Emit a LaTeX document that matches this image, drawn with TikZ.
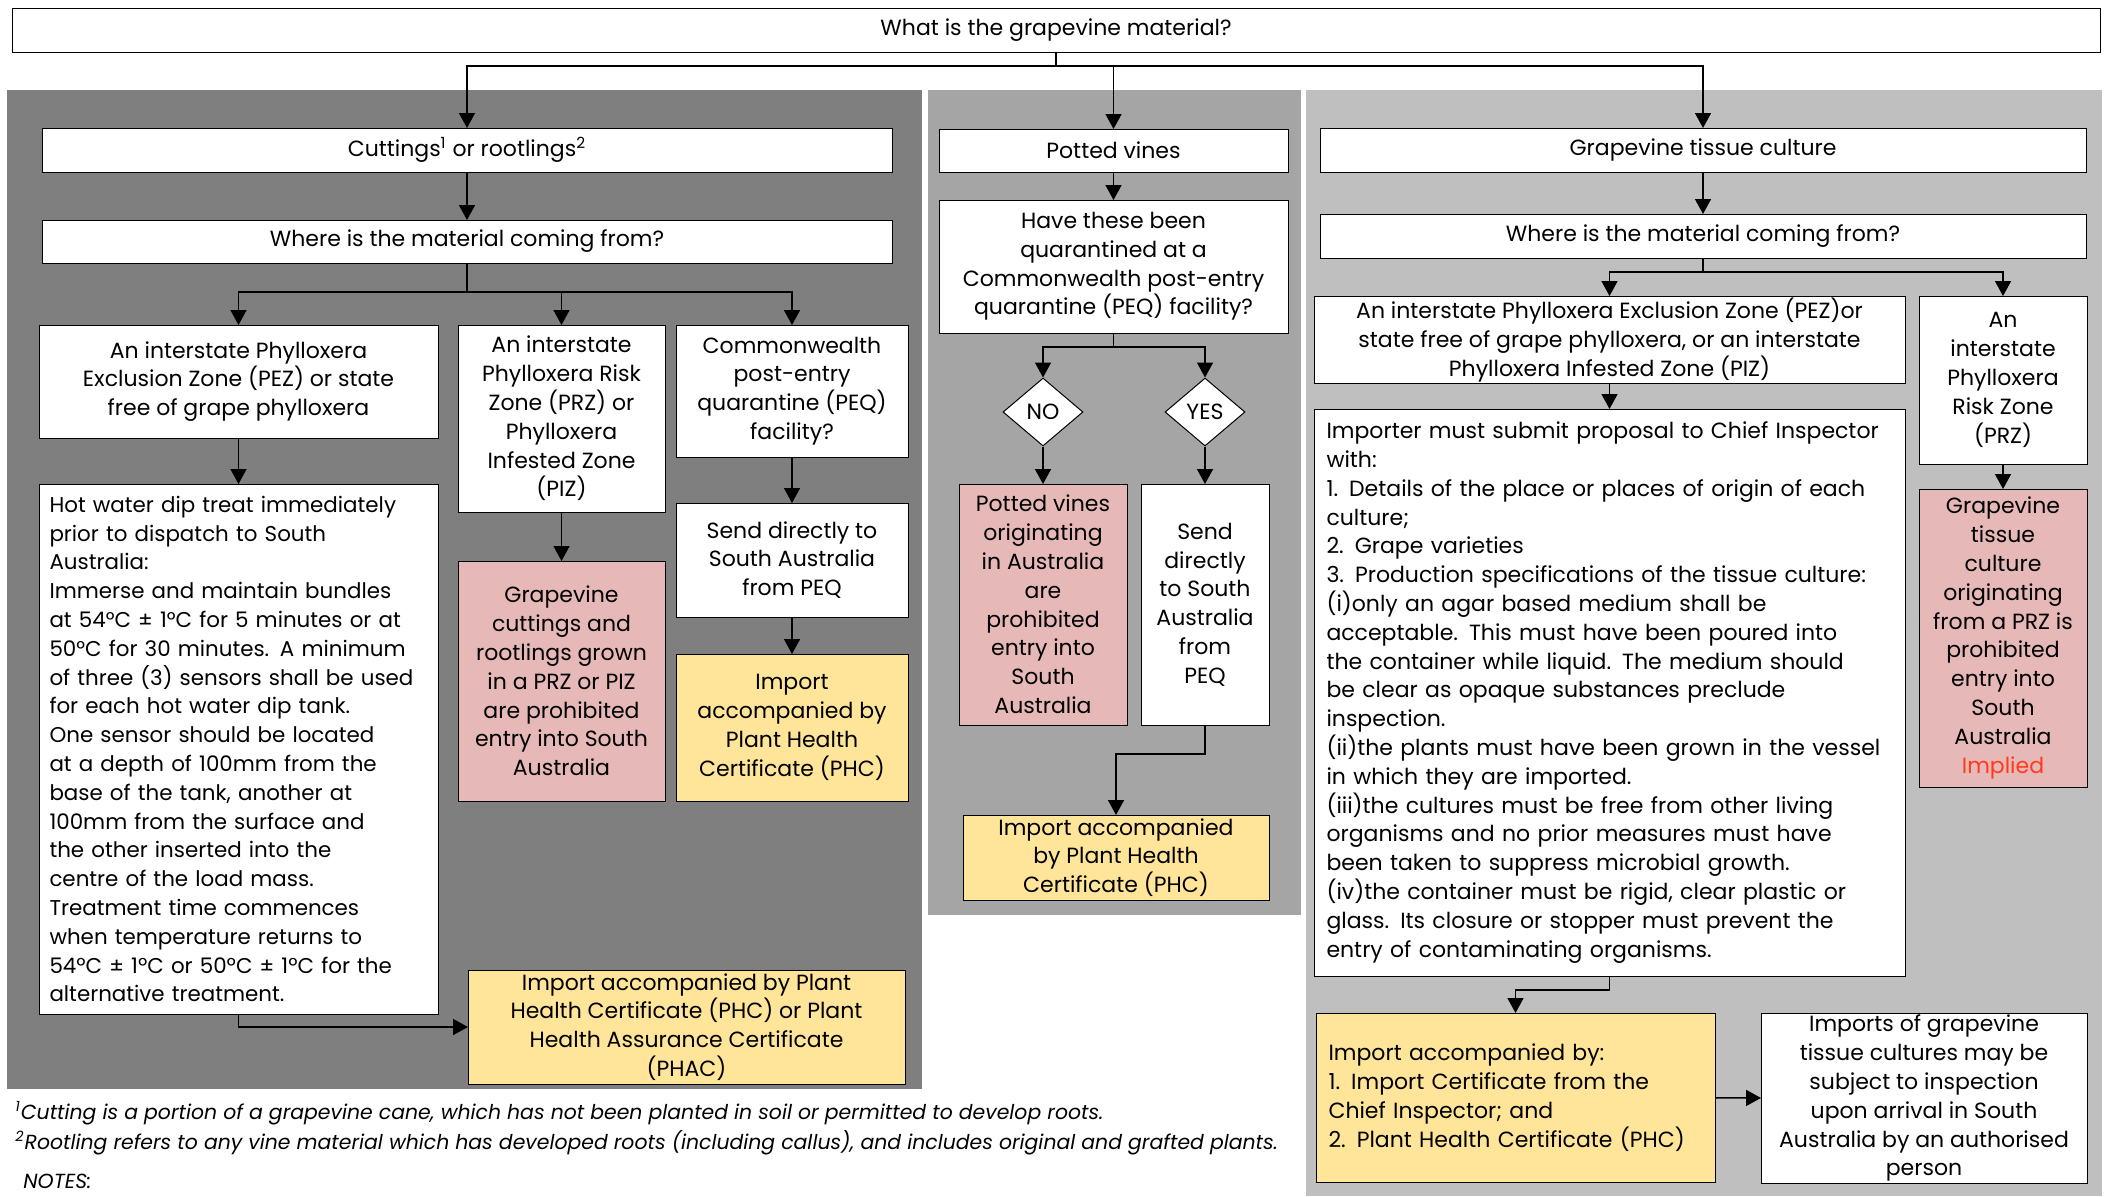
\documentclass[tikz,border=0pt]{standalone}
\usepackage{fontspec}
\setmainfont{Poppins}
\usetikzlibrary{shapes.geometric,arrows.meta}

\definecolor{panelA}{RGB}{127,127,127}
\definecolor{panelB}{RGB}{165,165,165}
\definecolor{panelC}{RGB}{191,191,191}
\definecolor{pinkc}{RGB}{230,184,183}
\definecolor{yelc}{RGB}{255,229,153}
\definecolor{impl}{RGB}{255,59,31}

\newcommand\txt{\fontsize{11}{14.4}\selectfont}
\newcommand\txtsm{\fontsize{10.7}{14.4}\selectfont}
\newcommand\ftn{\fontsize{10.2}{13}\selectfont\itshape}

\begin{document}
\begin{tikzpicture}[x=0.5pt,y=-0.5pt,
  box/.style={draw=black, line width=0.5pt, fill=white, align=center,
    inner sep=1pt, outer sep=0pt, font=\txt},
  pbox/.style={box, fill=pinkc},
  ybox/.style={box, fill=yelc},
  boxat/.style n args={4}{anchor=north west, at={(#1,#2)},
    minimum width={(#3-#1)*0.5pt}, minimum height={(#4-#2)*0.5pt}},
  conn/.style={line width=0.75pt},
  arr/.style={conn, -{Triangle[length=7.5pt,width=8pt]}},
  dia/.style={draw=black, line width=0.5pt, fill=white, diamond, inner sep=0pt,
    minimum width=40pt, minimum height=34pt, font=\txt},
  note/.style={anchor=base west, inner sep=0pt, font=\ftn}
]
\useasboundingbox (0,0) rectangle (2107,1196);
\fill[white] (0,0) rectangle (2107,1196);

% shaded panels for the three kinds of material
\fill[panelA] (7,90) rectangle (922,1089);
\fill[panelB] (928,90) rectangle (1301,915);
\fill[panelC] (1306,90) rectangle (2102,1196);

% question at the top
\node[box, boxat={12}{8}{2100}{52}] (top) {What is the grapevine material?};

% ---- cuttings and rootlings ----
\node[box, boxat={42}{128}{892}{172}] (cut) {Cuttings\textsuperscript{1} or rootlings\textsuperscript{2}};
\node[box, boxat={42}{220}{892}{263}] (lwhere) {Where is the material coming from?};
\node[box, boxat={39}{325}{438}{438}] (pez) {An interstate Phylloxera\\Exclusion Zone (PEZ) or state\\free of grape phylloxera};
\node[box, boxat={458}{325}{665}{512}] (prz) {An interstate\\Phylloxera Risk\\Zone (PRZ) or\\Phylloxera\\Infested Zone\\(PIZ)};
\node[box, boxat={676}{325}{908}{457}] (peq) {Commonwealth\\post-entry\\quarantine (PEQ)\\facility?};
\node[box, boxat={39}{484}{438}{1014}, align=left, text width=189pt, font=\txtsm] (hwd) {Hot water dip treat immediately\\prior to dispatch to South\\Australia:\\Immerse and maintain bundles\\at 54°C ± 1°C for 5 minutes or at\\50°C for 30 minutes. A minimum\\of three (3) sensors shall be used\\for each hot water dip tank.\\One sensor should be located\\at a depth of 100mm from the\\base of the tank, another at\\100mm from the surface and\\the other inserted into the\\centre of the load mass.\\Treatment time commences\\when temperature returns to\\54ºC ± 1ºC or 50ºC ± 1ºC for the\\alternative treatment.};
\node[pbox, boxat={458}{561}{665}{801}] (lpro) {Grapevine\\cuttings and\\rootlings grown\\in a PRZ or PIZ\\are prohibited\\entry into South\\Australia};
\node[box, boxat={676}{503}{908}{617}] (send) {Send directly to\\South Australia\\from PEQ};
\node[ybox, boxat={676}{654}{908}{801}] (lphc) {Import\\accompanied by\\Plant Health\\Certificate (PHC)};
\node[ybox, boxat={468}{970}{905}{1084}] (phac) {Import accompanied by Plant\\Health Certificate (PHC) or Plant\\Health Assurance Certificate\\(PHAC)};

% ---- potted vines ----
\node[box, boxat={939}{129}{1288}{172}] (pot) {Potted vines};
\node[box, boxat={939}{200}{1288}{333}] (quar) {Have these been\\quarantined at a\\Commonwealth post-entry\\quarantine (PEQ) facility?};
\node[dia] (no) at (1043,412) {NO};
\node[dia] (yes) at (1205,412) {YES};
\node[pbox, boxat={959}{484}{1127}{725}] (mpro) {Potted vines\\originating\\in Australia\\are\\prohibited\\entry into\\South\\Australia};
\node[box, boxat={1141}{484}{1269}{725}] (msend) {Send\\directly\\to South\\Australia\\from\\PEQ};
\node[ybox, boxat={963}{815}{1269}{900}] (mphc) {Import accompanied\\by Plant Health\\Certificate (PHC)};

% ---- tissue culture ----
\node[box, boxat={1320}{128}{2086}{172}] (gtc) {Grapevine tissue culture};
\node[box, boxat={1320}{214}{2086}{258}] (rwhere) {Where is the material coming from?};
\node[box, boxat={1314}{296}{1905}{380}] (pezpiz) {An interstate Phylloxera Exclusion Zone (PEZ)or\\state free of grape phylloxera, or an interstate\\Phylloxera Infested Zone (PIZ)};
\node[box, boxat={1919}{296}{2087}{464}] (rprz) {An\\interstate\\Phylloxera\\Risk Zone\\(PRZ)};
\node[box, boxat={1314}{409}{1905}{976}, align=left, text width=283pt] (imp) {Importer must submit proposal to Chief Inspector\\with:\\1. Details of the place or places of origin of each\\culture;\\2. Grape varieties\\3. Production specifications of the tissue culture:\\(i)only an agar based medium shall be\\acceptable. This must have been poured into\\the container while liquid. The medium should\\be clear as opaque substances preclude\\inspection.\\(ii)the plants must have been grown in the vessel\\in which they are imported.\\(iii)the cultures must be free from other living\\organisms and no prior measures must have\\been taken to suppress microbial growth.\\(iv)the container must be rigid, clear plastic or\\glass. Its closure or stopper must prevent the\\entry of contaminating organisms.};
\node[pbox, boxat={1919}{489}{2087}{787}] (rpro) {Grapevine\\tissue\\culture\\originating\\from a PRZ is\\prohibited\\entry into\\South\\Australia\\\textcolor{impl}{Implied}};
\node[ybox, boxat={1316}{1013}{1715}{1182}, align=left, text width=187pt] (rimp) {Import accompanied by:\\1. Import Certificate from the\\Chief Inspector; and\\2. Plant Health Certificate (PHC)};
\node[box, boxat={1761}{1013}{2087}{1182}] (insp) {Imports of grapevine\\tissue cultures may be\\subject to inspection\\upon arrival in South\\Australia by an authorised\\person};

% footnotes
\node[note] (fn1) at (15,1119) {\textsuperscript{1}Cutting is a portion of a grapevine cane, which has not been planted in soil or permitted to develop roots.};
\node[note] (fn2) at (15,1149) {\textsuperscript{2}Rootling refers to any vine material which has developed roots (including callus), and includes original and grafted plants.};
\node[note] (notes) at (23,1188) {NOTES:};

% ---- connectors ----
\coordinate (b0) at (1056,66);
\draw[conn] (top.south) -- (b0);
\draw[arr] (b0) -| (cut.north);
\draw[arr] (b0) -| (pot.north);
\draw[arr] (b0) -| (gtc.north);

\draw[arr] (cut) -- (lwhere);
\coordinate (b1) at (467,292);
\draw[conn] (lwhere.south) -- (b1);
\draw[arr] (b1) -| (pez.north);
\draw[arr] (b1) -| (prz.north);
\draw[arr] (b1) -| (peq.north);
\draw[arr] (pez) -- (hwd);
\draw[arr] (prz) -- (lpro);
\draw[arr] (peq) -- (send);
\draw[arr] (send) -- (lphc);
\draw[arr] (hwd.south) |- (phac.west);

\draw[arr] (pot) -- (quar);
\coordinate (b2) at (1113.5,347);
\draw[conn] (quar.south) -- (b2);
\draw[arr] (b2) -| (no.north);
\draw[arr] (b2) -| (yes.north);
\draw[arr] (no.south) -- (mpro.north);
\draw[arr] (yes.south) -- (msend.north);
\draw[arr] (msend.south) -- ++(0,29) -| (mphc.north);

\draw[arr] (gtc) -- (rwhere);
\coordinate (b3) at (1703,272);
\draw[conn] (rwhere.south) -- (b3);
\draw[arr] (b3) -| (pezpiz.north);
\draw[arr] (b3) -| (rprz.north);
\draw[arr] (pezpiz) -- (imp);
\draw[arr] (rprz) -- (rpro);
\draw[arr] (imp.south) -- ++(0,14) -| (rimp.north);
\draw[arr] (rimp) -- (insp);
\end{tikzpicture}
\end{document}
